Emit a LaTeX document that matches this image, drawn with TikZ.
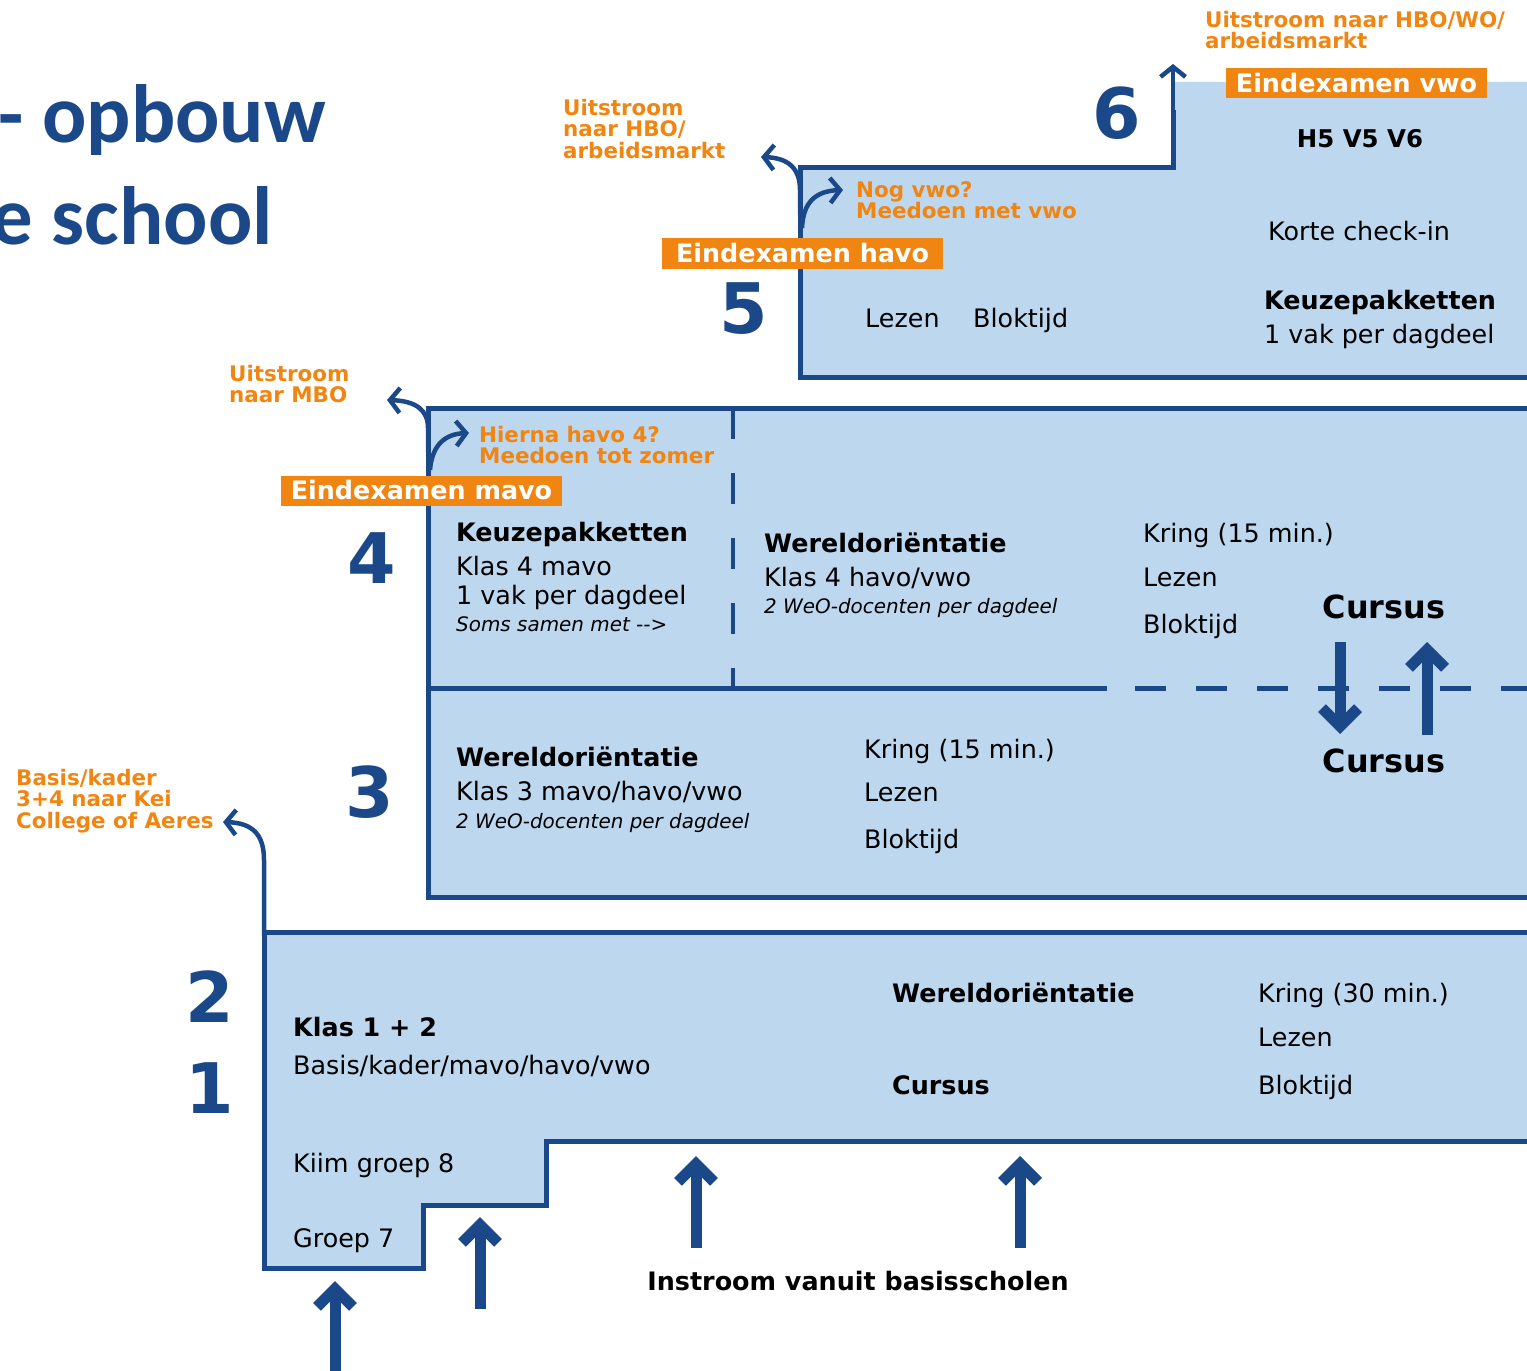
\documentclass[tikz,border=0pt]{standalone}
\usepackage{fontspec}
\setmainfont{DejaVu Sans}
\newfontfamily\titlefont{Carlito}
\usetikzlibrary{arrows.meta}
\definecolor{kblue}{RGB}{27,72,136}
\definecolor{kfill}{RGB}{189,215,238}
\definecolor{korange}{RGB}{240,133,18}
\begin{document}
\begin{tikzpicture}[x=1bp,y=-1bp,
  boxfill/.style={fill=kfill},
  edge/.style={draw=kblue,line width=5bp},
  flow/.style={draw=kblue,line width=4.5bp,-{Straight Barb[length=10bp,width=25bp]}},
  bigarrow/.style={draw=kblue,line width=11bp,-{Straight Barb[length=18bp,width=36bp]}},
  body/.style={anchor=base west,inner sep=0,font=\fontsize{25.5}{30}\selectfont},
  bodyb/.style={anchor=base west,inner sep=0,font=\bfseries\fontsize{25.5}{30}\selectfont},
  note/.style={anchor=base west,inner sep=0,font=\itshape\fontsize{20}{24}\selectfont},
  cursus/.style={anchor=base,inner sep=0,font=\bfseries\fontsize{32}{36}\selectfont},
  bignum/.style={anchor=base,inner sep=0,text=kblue,font=\bfseries\fontsize{70}{70}\selectfont},
  orlabel/.style={anchor=north west,inner sep=0,align=left,text=korange,font=\bfseries\fontsize{21.5}{21.5}\selectfont},
  exam/.style={fill=korange,text=white,inner sep=0,minimum height=30bp,font=\bfseries\fontsize{25.5}{30}\selectfont},
  titletext/.style={anchor=base east,inner sep=0,text=kblue,font=\titlefont\bfseries\fontsize{83}{83}\selectfont}
]
\useasboundingbox (0,0) rectangle (1527,1371);
\begin{scope}
\clip (0,0) rectangle (1527,1371);

% ---------- fills ----------
\fill[boxfill] (800,168) -- (1173,168) -- (1173,82) -- (1540,82) -- (1540,377) -- (800,377) -- cycle;
\fill[boxfill] (428,408) rectangle (1540,897);
\fill[boxfill] (264,932) -- (1540,932) -- (1540,1141) -- (546,1141) -- (546,1205) -- (423,1205) -- (423,1268) -- (264,1268) -- cycle;

% ---------- outlines ----------
\draw[edge] (1540,377) -- (800,377) -- (800,168) -- (1173,168) -- (1173,110);
\draw[edge] (1540,408) -- (428,408) -- (428,897) -- (1540,897);
\draw[edge] (428,688) -- (1107,688);
\draw[edge,dash pattern=on 31bp off 30bp] (1135,688) -- (1540,688);
\draw[draw=kblue,line width=4.5bp,dash pattern=on 31bp off 34bp] (733,408) -- (733,688);
\draw[edge] (1540,932) -- (264,932) -- (264,1268) -- (423,1268) -- (423,1205) -- (546,1205) -- (546,1141) -- (1540,1141);

% ---------- named coordinates for connectors ----------
\coordinate (s6) at (1173,120);
\coordinate (e6) at (1173,64);
\coordinate (s5out) at (800,215);
\coordinate (e5out) at (761,157);
\coordinate (s5in) at (802,228);
\coordinate (e5in) at (843,190);
\coordinate (s4out) at (428,452);
\coordinate (e4out) at (387,400);
\coordinate (s4in) at (430,470);
\coordinate (e4in) at (469,433);
\coordinate (s2out) at (264,936);
\coordinate (e2out) at (223,822);

% ---------- thin flow arrows ----------
\draw[flow] (s6) -- (e6);
\draw[flow] (s5out) -- (800,190) .. controls (800,168) and (788,158) .. (e5out);
\draw[flow] (s5in) .. controls (803,203) and (815,191) .. (e5in);
\draw[flow] (s4out) -- (428,428) .. controls (428,410) and (416,401) .. (e4out);
\draw[flow] (s4in) .. controls (432,445) and (445,434) .. (e4in);
\draw[flow] (s2out) -- (264,860) .. controls (264,835) and (253,823) .. (e2out);

% ---------- thick arrows ----------
\coordinate (a1s) at (335,1380);
\coordinate (a1e) at (335,1281);
\coordinate (a2s) at (480,1309);
\coordinate (a2e) at (480,1217);
\coordinate (a3s) at (696,1248);
\coordinate (a3e) at (696,1156);
\coordinate (a4s) at (1020,1248);
\coordinate (a4e) at (1020,1156);
\coordinate (cds) at (1340,642);
\coordinate (cde) at (1340,734);
\coordinate (cus) at (1427,735);
\coordinate (cue) at (1427,642);
\draw[bigarrow] (a1s) -- (a1e);
\draw[bigarrow] (a2s) -- (a2e);
\draw[bigarrow] (a3s) -- (a3e);
\draw[bigarrow] (a4s) -- (a4e);
\draw[bigarrow] (cds) -- (cde);
\draw[bigarrow] (cus) -- (cue);

% ---------- exam boxes ----------
\node[exam,minimum width=261bp] (exvwo) at (1356.5,83) {Eindexamen vwo};
\node[exam,minimum width=281bp] (exhavo) at (802.5,253.5) {Eindexamen havo};
\node[exam,minimum width=281bp] (exmavo) at (421.5,490.5) {Eindexamen mavo};

% ---------- title ----------
\node[titletext] (title1) at (326,143) {- opbouw};
\node[titletext] (title2) at (273,245) {e school};

% ---------- orange labels ----------
\node[orlabel] (l6) at (1205,11) {Uitstroom naar HBO/WO/\\arbeidsmarkt};
\node[orlabel] (l5) at (563,99) {Uitstroom\\naar HBO/\\arbeidsmarkt};
\node[orlabel] (l5in) at (856,181) {Nog vwo?\\Meedoen met vwo};
\node[orlabel] (l4) at (229,365) {Uitstroom\\naar MBO};
\node[orlabel] (l4in) at (479,426) {Hierna havo 4?\\Meedoen tot zomer};
\node[orlabel] (l2) at (16,769) {Basis/kader\\3+4 naar Kei\\College of Aeres};

% ---------- big numbers ----------
\node[bignum] (n6) at (1117,139) {6};
\node[bignum] (n5) at (744,333) {5};
\node[bignum] (n4) at (372,583) {4};
\node[bignum] (n3) at (370,817) {3};
\node[bignum] (n2) at (210,1022) {2};
\node[bignum] (n1) at (210,1113) {1};

% ---------- box 6/5 texts ----------
\node[bodyb,anchor=base,font=\bfseries\fontsize{24.5}{30}\selectfont] (h5) at (1360,148) {H5 V5 V6};
\node[body] (kci) at (1268,241) {Korte check-in};
\node[bodyb] (kp5) at (1264,309) {Keuzepakketten};
\node[body] (vak5) at (1264,343) {1 vak per dagdeel};
\node[body] (lez5) at (865,327) {Lezen};
\node[body] (blk5) at (973,327) {Bloktijd};

% ---------- box 4 texts ----------
\node[bodyb] (kp4) at (456,541) {Keuzepakketten};
\node[body] (k4m) at (456,575) {Klas 4 mavo};
\node[body] (vak4) at (456,604) {1 vak per dagdeel};
\node[note] (soms) at (456,631) {Soms samen met -\kern0pt-\kern0pt>};
\node[bodyb] (weo4) at (764,552) {Wereldoriëntatie};
\node[body] (k4hv) at (764,586) {Klas 4 havo/vwo};
\node[note] (doc4) at (764,613) {2 WeO-docenten per dagdeel};
\node[body] (kr4) at (1143,542) {Kring (15 min.)};
\node[body] (lez4) at (1143,586) {Lezen};
\node[body] (blk4) at (1143,633) {Bloktijd};
\node[cursus] (cur4) at (1384,618) {Cursus};
\node[cursus] (cur3) at (1384,772) {Cursus};

% ---------- box 3 texts ----------
\node[bodyb] (weo3) at (456,766) {Wereldoriëntatie};
\node[body] (k3) at (456,800) {Klas 3 mavo/havo/vwo};
\node[note] (doc3) at (456,828) {2 WeO-docenten per dagdeel};
\node[body] (kr3) at (864,758) {Kring (15 min.)};
\node[body] (lez3) at (864,801) {Lezen};
\node[body] (blk3) at (864,848) {Bloktijd};

% ---------- box 1/2 texts ----------
\node[bodyb] (k12) at (293,1036) {Klas 1 + 2};
\node[body] (bk) at (293,1074) {Basis/kader/mavo/havo/vwo};
\node[bodyb] (weo12) at (892,1002) {Wereldoriëntatie};
\node[bodyb] (cur12) at (892,1094) {Cursus};
\node[body] (kr12) at (1258,1002) {Kring (30 min.)};
\node[body] (lez12) at (1258,1046) {Lezen};
\node[body] (blk12) at (1258,1094) {Bloktijd};
\node[body] (kiim) at (293,1172) {Kiim groep 8};
\node[body] (g7) at (293,1247) {Groep 7};

\node[bodyb,anchor=base] (instroom) at (858,1290) {Instroom vanuit basisscholen};
\end{scope}
\end{tikzpicture}
\end{document}
